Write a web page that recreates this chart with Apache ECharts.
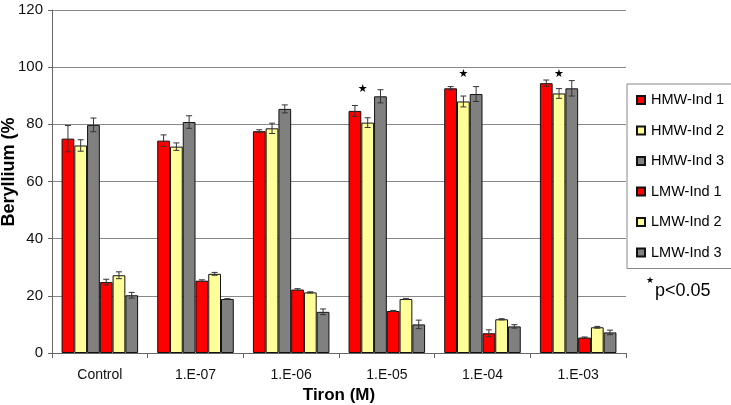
<!DOCTYPE html>
<html>
<head>
<meta charset="utf-8">
<script src="https://cdn.jsdelivr.net/npm/echarts@6/dist/echarts.min.js"></script>
<style>
  html, body { margin: 0; padding: 0; background: #fff; }
  #chart { width: 731px; height: 405px; }
</style>
</head>
<body>
<div id="chart"></div>
<script>
const categories = ['Control', '1.E-07', '1.E-06', '1.E-05', '1.E-04', '1.E-03']
const seriesNames = ['HMW-Ind 1', 'HMW-Ind 2', 'HMW-Ind 3', 'LMW-Ind 1', 'LMW-Ind 2', 'LMW-Ind 3']
const seriesColors = ['#ff0000', '#ffff99', '#808080', '#ff0000', '#ffff99', '#808080']

const hmw1 = [75.0, 74.3, 77.6, 84.7, 92.6, 94.4]
const hmw2 = [72.6, 72.2, 78.6, 80.6, 88.0, 90.8]
const hmw3 = [79.8, 80.8, 85.4, 89.8, 90.6, 92.6]
const lmw1 = [24.8, 25.3, 22.2, 14.7, 6.9, 5.4]
const lmw2 = [27.2, 27.7, 21.2, 18.9, 11.8, 9.0]
const lmw3 = [20.2, 18.9, 14.4, 10.0, 9.3, 7.2]

const hmw1Err = [4.6, 2.0, 0.5, 1.9, 0.6, 1.1]
const hmw2Err = [2.0, 1.3, 1.8, 1.7, 1.9, 1.7]
const hmw3Err = [2.4, 2.2, 1.4, 2.3, 2.6, 2.7]
const lmw1Err = [1.0, 0.3, 0.3, 0.2, 1.2, 0.2]
const lmw2Err = [1.2, 0.5, 0.2, 0.2, 0.2, 0.3]
const lmw3Err = [1.0, 0.1, 1.0, 1.5, 0.6, 0.8]

// significance stars: category, height, bar slot (0 = HMW-Ind 1 ... 5 = LMW-Ind 3)
const starCats = ['1.E-05', '1.E-04', '1.E-03']
const starY = [92.2, 97.6, 97.6]
const starSlot = [0.6, 1, 1]

const yTicks = [0, 20, 40, 60, 80, 100, 120]

const values = [hmw1, hmw2, hmw3, lmw1, lmw2, lmw3]
const errors = [hmw1Err, hmw2Err, hmw3Err, lmw1Err, lmw2Err, lmw3Err]

const FONT = '"Liberation Sans", Arial, sans-serif'
const BAR_SHARE = 0.8 // 1 - barCategoryGap

const slotX = (api, catIdx, val, slot) => {
  const c = api.coord([catIdx, val])
  const band = api.size([1, 0])[0]
  const barW = (band * BAR_SHARE) / seriesNames.length
  return c[0] + (slot - (seriesNames.length - 1) / 2) * barW
}

const barSeries = seriesNames.map((name, i) => ({
  name,
  type: 'bar',
  data: values[i],
  barGap: '0%',
  barCategoryGap: '20%',
  itemStyle: { color: seriesColors[i], borderColor: '#111', borderWidth: 1 },
  z: 2,
}))

const errSeries = seriesNames.map((name, i) => ({
  type: 'custom',
  name: name + ' err',
  data: values[i].map((v, k) => [k, v, errors[i][k]]),
  z: 5,
  silent: true,
  renderItem: (params, api) => {
    const k = api.value(0)
    const v = api.value(1)
    const e = api.value(2)
    const x = slotX(api, k, v, i)
    const top = api.coord([k, v + e])[1]
    const bot = api.coord([k, v - e])[1]
    const style = { stroke: '#333', lineWidth: 1 }
    return {
      type: 'group',
      children: [
        { type: 'line', shape: { x1: x, y1: top, x2: x, y2: bot }, style },
        { type: 'line', shape: { x1: x - 3, y1: top, x2: x + 3, y2: top }, style },
        { type: 'line', shape: { x1: x - 3, y1: bot, x2: x + 3, y2: bot }, style },
      ],
    }
  },
}))

const starSeries = {
  type: 'custom',
  name: 'stars',
  data: starCats.map((c, k) => [categories.indexOf(c), starY[k], starSlot[k]]),
  z: 6,
  silent: true,
  renderItem: (params, api) => {
    const k = api.value(0)
    const v = api.value(1)
    const x = slotX(api, k, v, api.value(2))
    const y = api.coord([k, v])[1]
    return {
      type: 'text',
      x,
      y,
      style: {
        text: '★',
        fill: '#000',
        font: '11px "DejaVu Sans", sans-serif',
        align: 'center',
        verticalAlign: 'middle',
      },
    }
  },
}

const chart = echarts.init(document.getElementById('chart'))

chart.setOption({
  animation: false,
  backgroundColor: '#fff',
  textStyle: { fontFamily: FONT, color: '#000' },
  grid: { left: 52, right: 105, top: 10, bottom: 52, containLabel: false, outerBoundsMode: 'none' },
  legend: {
    data: seriesNames,
    orient: 'vertical',
    left: 627,
    top: 84,
    itemWidth: 8,
    itemHeight: 8,
    itemGap: 14.5,
    padding: [8, 30, 8, 9],
    borderColor: '#888',
    borderWidth: 1,
    backgroundColor: '#fff',
    icon: 'rect',
    textStyle: { fontFamily: FONT, fontSize: 14.5, color: '#000', lineHeight: 16, padding: [0, 0, 0, 1] },
  },
  xAxis: {
    type: 'category',
    data: categories,
    name: 'Tiron (M)',
    nameLocation: 'middle',
    nameGap: 33,
    nameTextStyle: { fontFamily: FONT, fontSize: 17, fontWeight: 'bold', color: '#000' },
    axisLine: { lineStyle: { color: '#666', width: 1 } },
    axisTick: { show: true, length: 5, lineStyle: { color: '#666' } },
    axisLabel: { fontFamily: FONT, fontSize: 14, color: '#111', margin: 15 },
  },
  yAxis: {
    type: 'value',
    min: yTicks[0],
    max: yTicks[yTicks.length - 1],
    interval: yTicks[1] - yTicks[0],
    axisLine: { show: true, lineStyle: { color: '#666', width: 1 } },
    axisTick: { show: true, length: 4, lineStyle: { color: '#666' } },
    axisLabel: { fontFamily: FONT, fontSize: 15, color: '#111', margin: 9 },
    splitLine: { lineStyle: { color: '#888', width: 1 } },
  },
  graphic: [
    {
      type: 'text',
      x: 9,
      y: 172,
      rotation: Math.PI / 2,
      style: {
        text: 'Beryllium (%',
        font: 'bold 18px "Liberation Sans", Arial, sans-serif',
        fill: '#000',
        align: 'center',
        verticalAlign: 'middle',
      },
    },
    {
      type: 'text',
      left: 646,
      top: 276,
      style: { text: '★', font: '9px "DejaVu Sans", sans-serif', fill: '#000' },
    },
    {
      type: 'text',
      left: 655,
      top: 282,
      style: { text: 'p<0.05', font: '18px "Liberation Sans", Arial, sans-serif', fill: '#000' },
    },
  ],
  series: [...barSeries, ...errSeries, starSeries],
})
</script>
</body>
</html>
